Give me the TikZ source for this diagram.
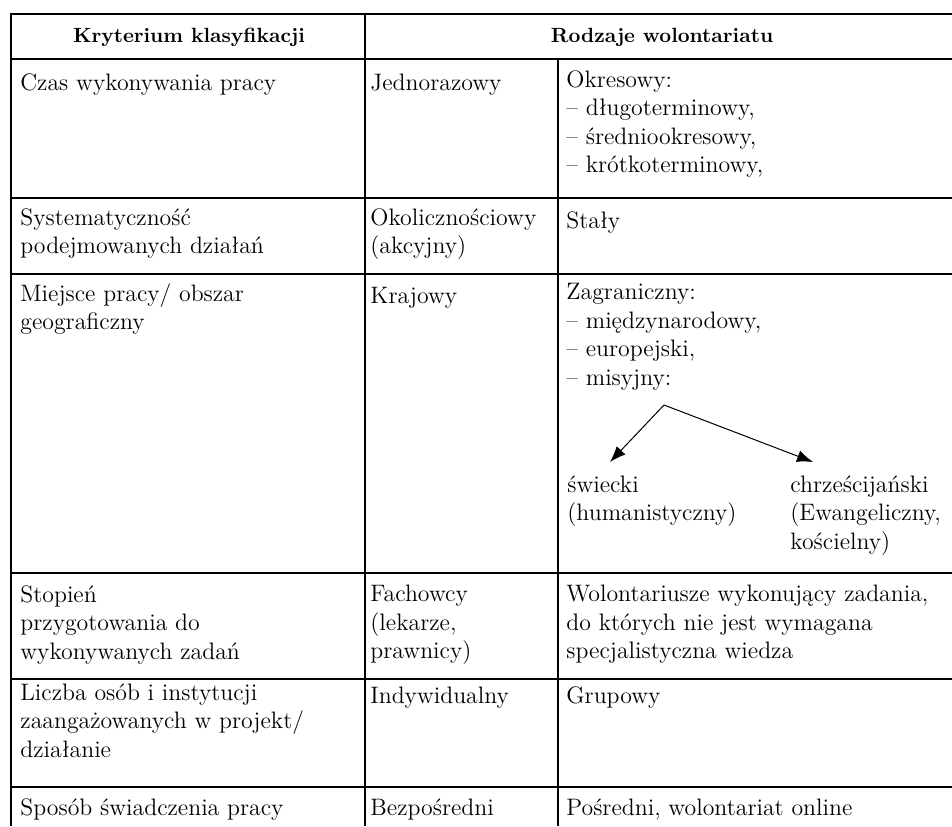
\documentclass[tikz,border=0pt]{standalone}
\usetikzlibrary{arrows.meta}
\tikzset{
    TX/.style ={anchor=north west, align=left, inner sep=0pt, font=\fontsize{11.9}{14.25}\selectfont, execute at begin node=\strut},
    HD/.style ={anchor=base, inner sep=0pt, font=\fontsize{10.3}{12}\selectfont\bfseries},
    GR/.style ={line width=0.6pt},
    BD/.style ={line width=1pt},
    AR/.style ={-{Latex[length=8pt,width=6pt]}, line width=0.5pt}}

\begin{document}
\begin{tikzpicture}[x=0.5pt,y=-0.5pt]
        \useasboundingbox (0,0) rectangle (952,826);
        % ramka i linie tabeli
        \draw[BD] (952,14) -- (11,14) -- (11,826);
        \draw[GR] (365,14) -- (365,826);
        \draw[GR] (558,59) -- (558,826);
        \foreach \y in {59,198,274,573,679,787}
            \draw[GR] (11,\y) -- (952,\y);
        % naglowek
        \node[HD] (h1) at(189,42){Kryterium klasyfikacji};
        \node[HD] (h2) at(662,42){Rodzaje wolontariatu};
        % wiersz 1
        \node[TX] (k1) at(20,70){Czas wykonywania pracy};
        \node[TX] (a1) at(370,70){Jednorazowy};
        \node[TX] (b1) at(566,70){Okresowy:\\-- długoterminowy,\\-- średniookresowy,\\-- krótkoterminowy,};
        % wiersz 2
        \node[TX] (k2) at(20,208){Systematyczność\\podejmowanych działań};
        \node[TX] (a2) at(370,208){Okolicznościowy\\(akcyjny)};
        \node[TX] (b2) at(566,208){Stały};
        % wiersz 3
        \node[TX] (k3) at(20,283){Miejsce pracy/ obszar\\geograficzny};
        \node[TX] (a3) at(370,283){Krajowy};
        \node[TX] (b3) at(566,283){Zagraniczny:\\-- międzynarodowy,\\-- europejski,\\-- misyjny:};
        \node[TX] (s1) at(567,475){świecki\\(humanistyczny)};
        \node[TX] (s2) at(790,475){chrześcijański\\(Ewangeliczny,\\kościelny)};
        \coordinate (split) at(664,405);
        \coordinate (tipL) at(610,462);
        \coordinate (tipR) at(813,462);
        \draw[AR] (split) -- (tipL);
        \draw[AR] (split) -- (tipR);
        % wiersz 4
        \node[TX] (k4) at(20,585){Stopień\\przygotowania do\\wykonywanych zadań};
        \node[TX] (a4) at(370,585){Fachowcy\\(lekarze,\\prawnicy)};
        \node[TX] (b4) at(566,585){Wolontariusze wykonujący zadania,\\do których nie jest wymagana\\specjalistyczna wiedza};
        % wiersz 5
        \node[TX] (k5) at(20,683){Liczba osób i instytucji\\zaangażowanych w projekt/\\działanie};
        \node[TX] (a5) at(370,683){Indywidualny};
        \node[TX] (b5) at(566,683){Grupowy};
        % wiersz 6
        \node[TX] (k6) at(20,795){Sposób świadczenia pracy};
        \node[TX] (a6) at(370,795){Bezpośredni};
        \node[TX] (b6) at(566,795){Pośredni, wolontariat online};
\end{tikzpicture}
\end{document}
